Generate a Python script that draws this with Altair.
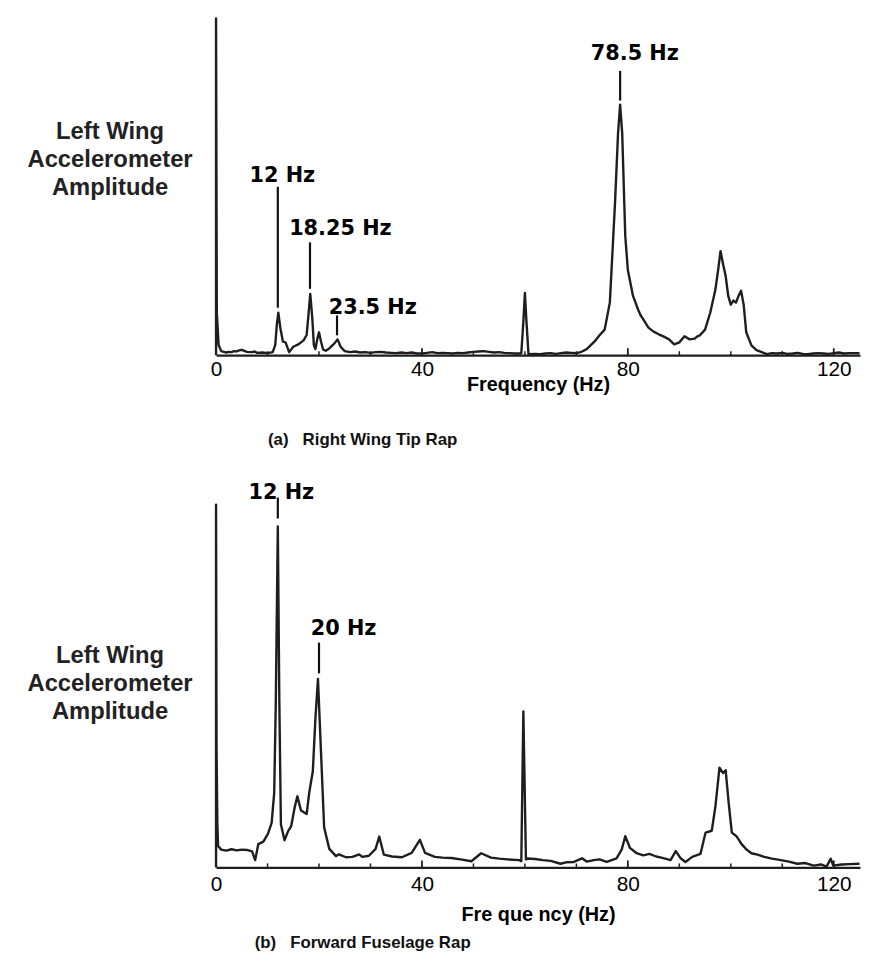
import altair as alt
import pandas as pd

# ---------------- data: panel (a) Right Wing Tip Rap ----------------
freq_a = [0, 0, 0.15, 0.5, 1, 1.5, 2, 2.5, 3, 3.5, 4, 4.5, 5, 5.5, 6, 7, 7.5, 8, 9, 10, 11,
          11.5, 11.8, 12.1, 12.5, 13, 13.5, 14.2, 15, 16, 17, 17.6, 17.9, 18.3, 18.7, 19,
          19.3, 19.7, 20, 20.4, 20.8, 21.3, 22, 23, 23.6, 24.2, 25, 26, 27, 28, 29, 30, 31,
          32, 33, 34, 35, 36, 37, 38, 39, 40, 41, 42, 43, 44, 45, 46, 47, 48, 49, 50, 51, 52,
          53, 54, 55, 56, 57, 58, 59.3, 59.7, 60, 60.3, 60.7, 62, 63, 64, 65, 66, 67, 68,
          69, 70, 71, 72, 73.5, 74.5, 75.5, 76.5, 77.5, 78.1, 78.5, 78.9, 79.5, 80, 81, 82,
          82.5, 83, 84, 85, 86, 87, 88, 89, 90, 91, 92, 93, 93.5, 94, 95, 96, 97, 97.6, 98,
          98.5, 99, 99.5, 100, 100.5, 101, 101.5, 102, 102.5, 103, 104, 105, 106, 107, 108,
          109, 110, 111, 112, 113, 114, 115, 116, 117, 118, 119, 120, 121, 122, 123, 125.0]
amp_a = [0, 100, 12.6, 3, 1.2, 1.0, 0.8, 1.0, 0.9, 1.2, 1.1, 1.4, 1.6, 1.3, 1.0, 0.9, 1.1, 0.7,
         0.8, 0.6, 0.9, 3, 9, 12.6, 8, 4, 3.8, 0.9, 2.5, 3.2, 4.4, 6, 11, 18.2, 11, 3,
         1.8, 5, 6.8, 4, 1.7, 1.3, 2, 3.5, 4.7, 2.5, 1.2, 0.9, 1.1, 0.8, 0.9, 0.7, 0.9,
         1.0, 0.8, 0.7, 0.6, 0.8, 0.6, 0.8, 0.5, 0.5, 0.7, 0.9, 0.6, 0.7, 0.6, 0.5, 0.7, 0.6,
         0.8, 1.0, 1.1, 1.2, 1.0, 0.8, 0.9, 0.7, 0.6, 0.5, 0.5, 10, 18.5, 10, 0.3, 0.4,
         0.3, 0.5, 0.6, 0.4, 0.6, 0.8, 0.7, 0.6, 1.0, 1.8, 4, 5.9, 7.6, 15.6, 45, 66, 74.4,
         66, 35.3, 25.3, 17.6, 13.5, 11.8, 10.6, 8.2, 7.0, 6.2, 5.5, 4.7, 3.2, 3.8, 5.6,
         4.7, 4.9, 5.6, 5.9, 7.6, 12.6, 19.4, 26, 30.9, 27, 23.5, 17.6, 15, 16.2, 15.6,
         17.6, 19.1, 15, 6.8, 2.9, 1.5, 0.9, 0.3, 0.6, 0.5, 0.7, 0.4, 0.5, 0.7, 0.4, 0.3,
         0.5, 0.6, 0.5, 0.4, 0.6, 0.8, 0.5, 0.6, 0.6]

# ---------------- data: panel (b) Forward Fuselage Rap ----------------
freq_b = [0, 0, 0.1, 0.25, 0.4, 1, 2, 3, 4, 5, 6, 7, 7.6, 8.2, 9.2, 10.1, 10.8, 11.3, 11.6, 12,
          12.3, 12.6, 13.3, 14, 14.6, 15.3, 15.8, 16.5, 17.6, 18.1, 18.8, 19.3, 19.8, 20.4, 21,
          22, 23.3, 23.9, 25.2, 26.5, 27.8, 28.4, 29.7, 31, 31.7, 32.6, 34.2, 36.1, 38, 39.6,
          40.6, 42.5, 44, 45.7, 47.5, 49.6, 51.5, 53.4, 55, 56.6, 58.9, 59.3, 59.7, 60.2, 60.5,
          62, 63.5, 65, 66.9, 68, 69.5, 71.1, 72, 73.4, 74.5, 75.9, 77.8, 78.8, 79.5, 80.4,
          81.7, 83, 84.2, 85.5, 86.7, 88.3, 89.3, 90.2, 91.2, 92.5, 94.1, 95.1, 96.3, 97, 97.8,
          98.5, 99, 99.6, 100.2, 101.1, 102.1, 103, 104, 105.2, 106.5, 108, 109.7, 111.3,
          112.9, 114.5, 116.1, 117.5, 118.6, 119.4, 119.9, 121.5, 123, 125.0]
amp_b = [0, 100, 33, 12, 5.9, 4.9, 4.6, 5.0, 4.7, 4.9, 4.8, 4.4, 2.0, 6.4, 7.1, 9.3, 12.3, 20.6,
         45, 94, 45, 11.9, 7.5, 10, 11.4, 16.7, 19.6, 15.7, 14.7, 20.6, 26.5, 41, 52, 31.4,
         11, 5.1, 3.1, 3.6, 2.8, 2.9, 3.6, 2.9, 3.2, 5.1, 8.5, 3.5, 3.0, 2.8, 4.0, 7.6,
         4.0, 2.9, 2.7, 2.6, 2.2, 1.7, 3.9, 2.7, 2.4, 2.2, 2.0, 1.7, 43, 2.2, 2.45,
         2.3, 2.0, 1.8, 1.0, 1.4, 1.5, 2.5, 1.6, 2.0, 2.2, 1.5, 2.5, 4.9, 8.6, 5.4,
         3.9, 3.3, 3.7, 3.0, 2.6, 2.0, 4.5, 2.6, 1.5, 2.9, 3.7, 9.6, 10.1, 16.7, 27.5,
         26, 26.8, 17.6, 9.6, 8.6, 6.4, 5.0, 3.9, 3.5, 2.9, 2.4, 2.0, 1.6,
         1.0, 1.2, 0.5, 0.8, 0.2, 2.4, 0.5, 0.8, 0.9, 1.0]

# ---------------- annotations ----------------
ann_a_label = ["12 Hz", "18.25 Hz", "23.5 Hz", "78.5 Hz"]
ann_a_peak = [12, 18.25, 23.5, 78.5]
ann_a_textx = [6.5, 14.2, 21.9, 72.8]
ann_a_texty = [51.5, 35.6, 12.1, 87.6]
ann_a_lead_top = [50, 33.5, 11.8, 84.4]
ann_a_lead_bot = [14.1, 19.7, 5.9, 75.6]

ann_b_label = ["12 Hz", "20 Hz"]
ann_b_peak = [12, 20]
ann_b_textx = [6.3, 18.4]
ann_b_texty = [101.5, 64]
ann_b_lead_top = [102, 62]
ann_b_lead_bot = [96.2, 53.5]

tick_values = [10, 20, 30, 40, 50, 60, 70, 80, 90, 100, 110, 120]
major_ticks = [40, 80, 120]
axis_labels = [0, 40, 80, 120]

y_label_lines = ["Left Wing", "Accelerometer", "Amplitude"]

INK = "#1e1e1e"
FONT = "Liberation Sans"
WIDTH = 650
XMAX = 125.1


def panel(freqs, amps, height, labels, peaks, tx, ty, ltop, lbot,
          xtitle, caption, ylab_y, cap_y, label_pad, title_pad):
    df = pd.DataFrame({"f": freqs, "a": amps, "i": list(range(len(freqs)))})
    xs = alt.Scale(domain=[0, XMAX], nice=False, zero=False)
    ys = alt.Scale(domain=[0, 100], nice=False, zero=False)
    x = alt.X("f:Q", scale=xs, axis=alt.Axis(
        values=axis_labels, ticks=False, grid=False, domain=True,
        domainColor=INK, domainWidth=2.2, labelFont=FONT, labelFontSize=21,
        labelColor="#000", labelPadding=label_pad, labelFlush=False,
        title=xtitle, titleFont=FONT, titleFontSize=20, titleFontWeight="bold",
        titleColor="#000", titlePadding=title_pad))
    y = alt.Y("a:Q", scale=ys, axis=None)

    line = alt.Chart(df).mark_line(color=INK, strokeWidth=2.4, clip=False,
                                   strokeJoin="round", strokeCap="butt").encode(
        x=x, y=y, order="i:Q")

    tdf = pd.DataFrame({"f": tick_values,
                        "major": [v in major_ticks for v in tick_values]})
    minor = alt.Chart(tdf).transform_filter("!datum.major").mark_rule(
        color=INK, strokeWidth=1.5).encode(
        x=alt.X("f:Q", scale=xs), y=alt.value(height), y2=alt.value(height - 4))
    major = alt.Chart(tdf).transform_filter("datum.major").mark_rule(
        color=INK, strokeWidth=1.8).encode(
        x=alt.X("f:Q", scale=xs), y=alt.value(height), y2=alt.value(height - 7))

    adf = pd.DataFrame({"label": labels, "peak": peaks, "tx": tx, "ty": ty,
                        "top": ltop, "bot": lbot})
    leaders = alt.Chart(adf).mark_rule(color="#111", strokeWidth=2.2).encode(
        x=alt.X("peak:Q", scale=xs), y=alt.Y("top:Q", scale=ys), y2="bot:Q")
    texts = alt.Chart(adf).mark_text(
        font="DejaVu Sans", fontWeight="bold", fontSize=21, align="left",
        baseline="alphabetic", color="#000").encode(
        x=alt.X("tx:Q", scale=xs), y=alt.Y("ty:Q", scale=ys), text="label:N")

    layers = [line, minor, major, leaders, texts]
    for k, txt in enumerate(y_label_lines):
        layers.append(alt.Chart(pd.DataFrame({"t": [txt]})).mark_text(
            font=FONT, fontWeight="bold", fontSize=24, align="center",
            baseline="middle", color="#222").encode(
            x=alt.value(-107), y=alt.value(ylab_y + 28 * k), text="t:N"))

    cap = alt.Chart(pd.DataFrame({"t": [caption]})).mark_text(
        font=FONT, fontWeight="bold", fontSize=17, align="center",
        baseline="middle", color="#111").encode(
        x=alt.value(148), y=alt.value(cap_y), text="t:N")
    layers.append(cap)

    return alt.layer(*layers).properties(
        width=WIDTH, height=height,
        view=alt.ViewBackground(strokeOpacity=0, strokeWidth=0))


NB = "\u00a0"
HA = 340
HB = 366
pa = panel(freq_a, amp_a, HA, ann_a_label, ann_a_peak, ann_a_textx,
           ann_a_texty, ann_a_lead_top, ann_a_lead_bot, "Frequency (Hz)",
           "(a)" + NB * 3 + "Right Wing Tip Rap", 115, HA + 86, 4, -5)
pb = panel(freq_b, amp_b, HB, ann_b_label, ann_b_peak, ann_b_textx,
           ann_b_texty, ann_b_lead_top, ann_b_lead_bot, "Fre que ncy (Hz)",
           "(b)" + NB * 3 + "Forward Fuselage Rap", 153, HB + 76, 6, 11)

chart = alt.vconcat(pa, pb, spacing=34).properties(
    padding={"left": 19, "top": 4, "right": 0, "bottom": 0}
).configure_view(strokeOpacity=0, strokeWidth=0).configure(background="white")

chart.save("out.html", embed_options={"renderer": "svg", "actions": False})
